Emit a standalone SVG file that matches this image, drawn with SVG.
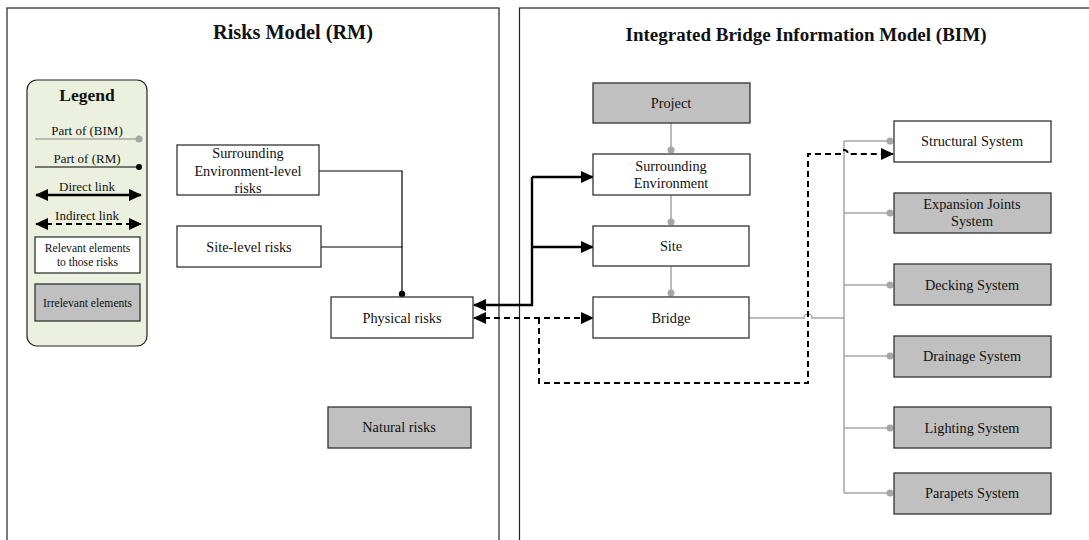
<svg xmlns="http://www.w3.org/2000/svg" width="1089" height="540" viewBox="0 0 1089 540">
<defs>
<style>
text{font-family:"Liberation Serif","Times New Roman",serif;fill:#111;text-anchor:middle}
.t{font-size:14.3px}
.title{font-size:19px;font-weight:bold}
.lg{font-size:13px}
.lg2{font-size:11.6px}
.box{fill:#fff;stroke:#333;stroke-width:1.3}
.gbox{fill:#c0c0c0;stroke:#333;stroke-width:1.3}
.panel{fill:none;stroke:#222;stroke-width:1.2}
.gl{fill:none;stroke:#a6a6a6;stroke-width:1.5}
.bl{fill:none;stroke:#000;stroke-width:1.2}
.dl{fill:none;stroke:#000;stroke-width:2.4}
.il{fill:none;stroke:#000;stroke-width:2;stroke-dasharray:6 4}
.gd{fill:#a6a6a6}
</style>
<marker id="ah" markerUnits="userSpaceOnUse" markerWidth="14" markerHeight="12" refX="12" refY="6" orient="auto-start-reverse" viewBox="0 0 14 12">
<path d="M0,0 L13,6 L0,12 Z" fill="#000" stroke="none"/>
</marker>
</defs>
<rect width="1089" height="540" fill="#fff"/>
<rect class="panel" x="7" y="8" width="492" height="545"/>
<rect class="panel" x="519.5" y="8" width="580" height="545"/>
<text class="title" x="293" y="39" style="font-size:20.3px">Risks Model (RM)</text>
<text class="title" x="806" y="41">Integrated Bridge Information Model (BIM)</text>

<g id="legend">
<rect x="27" y="80" width="120" height="266" rx="10" fill="#ebf1de" stroke="#222" stroke-width="1.2"/>
<text x="87" y="101" style="font-size:17.5px;font-weight:bold">Legend</text>
<text class="lg" x="87" y="135">Part of (BIM)</text>
<line class="gl" x1="35" y1="139" x2="139" y2="139"/>
<circle class="gd" cx="139" cy="139" r="3.5"/>
<text class="lg" x="87" y="163">Part of (RM)</text>
<line class="bl" x1="35" y1="167" x2="139" y2="167"/>
<circle cx="139" cy="167" r="3"/>
<text class="lg" x="87" y="191">Direct link</text>
<line class="dl" x1="36" y1="195" x2="141" y2="195" marker-start="url(#ah)" marker-end="url(#ah)"/>
<text class="lg" x="87" y="220">Indirect link</text>
<line class="il" x1="36" y1="224" x2="141" y2="224" marker-start="url(#ah)" marker-end="url(#ah)"/>
<rect class="box" x="35" y="237" width="105" height="36"/>
<text class="lg2" x="87.5" y="252">Relevant elements</text>
<text class="lg2" x="87.5" y="266">to those risks</text>
<rect class="gbox" x="35" y="284" width="105" height="37"/>
<text class="lg2" x="87.5" y="307">Irrelevant elements</text>
</g>

<g id="connectors">
<polyline class="bl" points="319,171 402,171 402,294"/>
<line class="bl" x1="321" y1="247" x2="402" y2="247"/>
<circle cx="402" cy="294" r="3.2"/>
<polyline class="dl" points="532,177 532,305 474,305" marker-end="url(#ah)"/>
<line class="dl" x1="532" y1="177" x2="593" y2="177" marker-end="url(#ah)"/>
<line class="dl" x1="532" y1="247" x2="593" y2="247" marker-end="url(#ah)"/>
<line class="il" x1="474" y1="318" x2="593" y2="318" marker-start="url(#ah)" marker-end="url(#ah)"/>
<path class="gl" d="M671,123 V150 M671,195 V222 M671,266 V293"/>
<circle class="gd" cx="671" cy="150" r="3.5"/>
<circle class="gd" cx="671" cy="222" r="3.5"/>
<circle class="gd" cx="671" cy="293" r="3.5"/>
<path class="gl" d="M749,318 H804 A4,4 0 0 1 812,318 H844 M844,141 V493 M844,141 H890 M844,213 H890 M844,285 H890 M844,356 H890 M844,428 H890 M844,493 H890"/>
<circle class="gd" cx="890" cy="141" r="3.5"/>
<circle class="gd" cx="890" cy="213" r="3.5"/>
<circle class="gd" cx="890" cy="285" r="3.5"/>
<circle class="gd" cx="890" cy="356" r="3.5"/>
<circle class="gd" cx="890" cy="428" r="3.5"/>
<circle class="gd" cx="890" cy="493" r="3.5"/>
<path class="il" d="M539,318 V383 H808 V154 H840 A4,4 0 0 1 848,154 H893" marker-end="url(#ah)"/>
</g>

<g id="se-risks"><rect class="box" x="177" y="145" width="142" height="50"/>
<text class="t" x="248" y="158">Surrounding</text><text class="t" x="248" y="176">Environment-level</text><text class="t" x="248" y="193">risks</text></g>
<g id="site-risks"><rect class="box" x="177" y="226" width="144" height="41"/><text class="t" x="249" y="252">Site-level risks</text></g>
<g id="physical-risks"><rect class="box" x="331" y="297" width="142" height="41"/><text class="t" x="402" y="323">Physical risks</text></g>
<g id="natural-risks"><rect class="gbox" x="328" y="407" width="143" height="41"/><text class="t" x="399" y="432">Natural risks</text></g>

<g id="project"><rect class="gbox" x="593" y="83" width="157" height="40"/><text class="t" x="671" y="108">Project</text></g>
<g id="surrounding-env"><rect class="box" x="593" y="154" width="157" height="41"/><text class="t" x="671" y="171">Surrounding</text><text class="t" x="671" y="188">Environment</text></g>
<g id="site"><rect class="box" x="593" y="226" width="156" height="40"/><text class="t" x="671" y="251">Site</text></g>
<g id="bridge"><rect class="box" x="593" y="297" width="156" height="41"/><text class="t" x="671" y="323">Bridge</text></g>

<g id="structural"><rect class="box" x="894" y="121" width="157" height="41"/><text class="t" x="972" y="146">Structural System</text></g>
<g id="expansion"><rect class="gbox" x="894" y="193" width="157" height="40"/><text class="t" x="972" y="209">Expansion Joints</text><text class="t" x="972" y="226">System</text></g>
<g id="decking"><rect class="gbox" x="894" y="264" width="157" height="41"/><text class="t" x="972" y="290">Decking System</text></g>
<g id="drainage"><rect class="gbox" x="894" y="336" width="157" height="41"/><text class="t" x="972" y="361">Drainage System</text></g>
<g id="lighting"><rect class="gbox" x="894" y="407" width="157" height="41"/><text class="t" x="972" y="433">Lighting System</text></g>
<g id="parapets"><rect class="gbox" x="894" y="473" width="157" height="41"/><text class="t" x="972" y="498">Parapets System</text></g>
</svg>
